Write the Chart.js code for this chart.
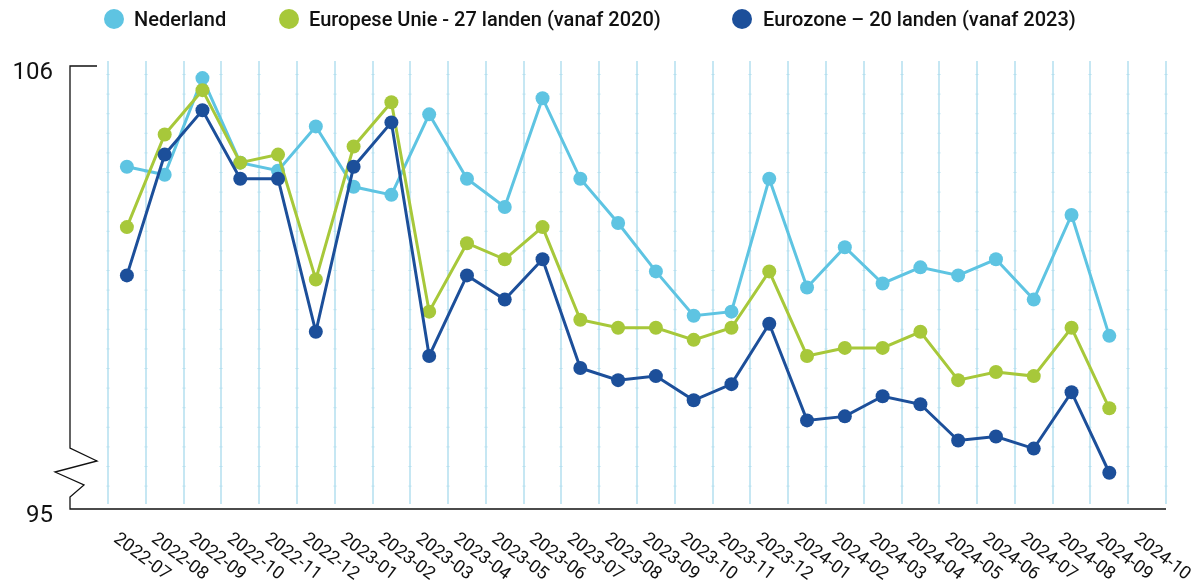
<!DOCTYPE html>
<html><head><meta charset="utf-8">
<script src="https://cdn.jsdelivr.net/npm/chart.js@4/dist/chart.umd.min.js"></script>
<style>html,body{margin:0;padding:0;background:#fff}#wrap{width:1204px;height:587px;position:relative}</style>
</head><body><div id="wrap"><canvas id="c" width="1204" height="587"></canvas></div>
<script>
const categories = ['2022-07','2022-08','2022-09','2022-10','2022-11','2022-12','2023-01','2023-02','2023-03','2023-04','2023-05','2023-06','2023-07','2023-08','2023-09','2023-10','2023-11','2023-12','2024-01','2024-02','2024-03','2024-04','2024-05','2024-06','2024-07','2024-08','2024-09','2024-10'];
const nederland = [103.5,103.3,105.7,103.6,103.4,104.5,103.0,102.8,104.8,103.2,102.5,105.2,103.2,102.1,100.9,99.8,99.9,103.2,100.5,101.5,100.6,101.0,100.8,101.2,100.2,102.3,99.3];
const eu27 = [102.0,104.3,105.4,103.6,103.8,100.7,104.0,105.1,99.9,101.6,101.2,102.0,99.7,99.5,99.5,99.2,99.5,100.9,98.8,99.0,99.0,99.4,98.2,98.4,98.3,99.5,97.5];
const eurozone = [100.8,103.8,104.9,103.2,103.2,99.4,103.5,104.6,98.8,100.8,100.2,101.2,98.5,98.2,98.3,97.7,98.1,99.6,97.2,97.3,97.8,97.6,96.7,96.8,96.5,97.9,95.9];
const seriesNames = ['Nederland','Europese Unie - 27 landen (vanaf 2020)','Eurozone \u2013 20 landen (vanaf 2023)'];
const seriesColors = ['#5ec4e2','#a7c83a','#1c4f9a'];
const yTickLabels = [95, 106];

function ds(i, data, order){
  return {label: seriesNames[i], data: data, borderColor: seriesColors[i], backgroundColor: seriesColors[i],
    pointBackgroundColor: seriesColors[i], pointBorderWidth: 0, pointRadius: 7, pointHoverRadius: 7,
    borderWidth: 3, tension: 0, clip: false, order: order};
}

const decor = {
  id: 'decor',
  beforeDatasetsDraw(chart){
    const ctx = chart.ctx, xs = chart.scales.x, a = chart.chartArea;
    ctx.save();
    for (let i = 0; i <= categories.length; i++){
      const x = Math.round(xs.getPixelForValue(i - 0.5));
      ctx.strokeStyle = '#c6e7f3'; ctx.lineWidth = 2;
      ctx.beginPath(); ctx.moveTo(x, a.top - 5); ctx.lineTo(x, a.bottom - 5); ctx.stroke();
      ctx.fillStyle = '#b6e0ef';
      for (let y = a.top + 8; y < a.bottom - 6; y += 19.6){ ctx.fillRect(x - 1.5, y, 3, 1); }
    }
    ctx.restore();
  },
  afterDraw(chart){
    const ctx = chart.ctx, xs = chart.scales.x, ys = chart.scales.y, a = chart.chartArea;
    ctx.save();
    const ax = 70;
    const yTop = ys.getPixelForValue(yTickLabels[1]);
    const yBot = ys.getPixelForValue(yTickLabels[0]);
    ctx.strokeStyle = '#111'; ctx.lineWidth = 1.3;
    ctx.beginPath();
    ctx.moveTo(97, yTop); ctx.lineTo(ax, yTop); ctx.lineTo(ax, 448);
    ctx.lineTo(97, 461); ctx.lineTo(55, 472); ctx.lineTo(84, 485); ctx.lineTo(ax, 497); ctx.lineTo(ax, yBot);
    ctx.lineTo(a.right, yBot);
    ctx.stroke();
    ctx.fillStyle = '#111';
    ctx.font = '24px Roboto';
    ctx.textAlign = 'right'; ctx.textBaseline = 'middle';
    yTickLabels.forEach(v => ctx.fillText(String(v), 53, ys.getPixelForValue(v) + 7));
    ctx.font = '18px Roboto';
    ctx.textAlign = 'left'; ctx.textBaseline = 'top';
    categories.forEach((c, i) => {
      const x = xs.getPixelForValue(i);
      ctx.save();
      ctx.translate(x - 6, 530);
      ctx.rotate(37 * Math.PI / 180);
      ctx.fillText(c, 0, 0);
      ctx.restore();
    });
    const lx = [114, 289, 742], tx = [134, 309, 763];
    ctx.font = '500 20px Roboto';
    ctx.textBaseline = 'alphabetic';
    for (let i = 0; i < 3; i++){
      ctx.fillStyle = seriesColors[i];
      ctx.beginPath(); ctx.arc(lx[i], 19, 10, 0, Math.PI * 2); ctx.fill();
      ctx.fillStyle = '#111';
      ctx.fillText(seriesNames[i], tx[i], 26);
    }
    ctx.restore();
  }
};

new Chart(document.getElementById('c'), {
  type: 'line',
  data: { labels: categories, datasets: [ds(0, nederland, 3), ds(1, eu27, 2), ds(2, eurozone, 1)] },
  options: {
    responsive: false, animation: false, devicePixelRatio: 1,
    layout: { padding: { left: 108, right: 38, top: 66, bottom: 78 } },
    plugins: { legend: { display: false }, tooltip: { enabled: false } },
    scales: {
      x: { type: 'category', display: false, offset: true },
      y: { display: false, min: 95, max: 106 }
    }
  },
  plugins: [decor]
});
</script></body></html>
